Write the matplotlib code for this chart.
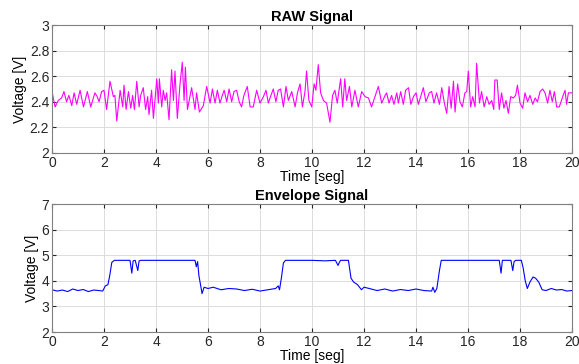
import matplotlib
matplotlib.use('Agg')
import matplotlib.pyplot as plt

# raw signal (time in s, voltage in V)
raw_t = [0.0, 0.12, 0.24, 0.37, 0.46, 0.56, 0.65, 0.76, 0.85, 0.95,
         1.08, 1.21, 1.36, 1.49, 1.65, 1.74, 1.81, 1.91, 2.0, 2.1,
         2.23, 2.36, 2.42, 2.49, 2.62, 2.72, 2.77, 2.85, 2.94, 3.03,
         3.1, 3.17, 3.26, 3.35, 3.41, 3.51, 3.6, 3.68, 3.73, 3.83,
         3.9, 4.03, 4.09, 4.13, 4.22, 4.28, 4.35, 4.41, 4.5, 4.6,
         4.67, 4.73, 4.82, 4.92, 5.01, 5.08, 5.13, 5.21, 5.37, 5.5,
         5.56, 5.67, 5.82, 5.95, 6.08, 6.17, 6.27, 6.36, 6.46, 6.55,
         6.62, 6.72, 6.81, 6.91, 7.0, 7.1, 7.2, 7.29, 7.38, 7.51,
         7.62, 7.74, 7.87, 8.0, 8.13, 8.23, 8.32, 8.42, 8.51, 8.61,
         8.7, 8.79, 8.9, 9.0, 9.09, 9.22, 9.35, 9.44, 9.54, 9.63,
         9.73, 9.79, 9.88, 9.99, 10.08, 10.15, 10.24, 10.33, 10.44, 10.56,
         10.69, 10.79, 10.88, 10.97, 11.1, 11.18, 11.26, 11.33, 11.44, 11.53,
         11.65, 11.78, 11.91, 12.04, 12.17, 12.29, 12.42, 12.55, 12.68, 12.81,
         12.87, 12.96, 13.06, 13.15, 13.26, 13.32, 13.41, 13.51, 13.6, 13.71,
         13.8, 13.9, 14.0, 14.09, 14.19, 14.28, 14.38, 14.51, 14.6, 14.69,
         14.79, 14.9, 14.99, 15.09, 15.18, 15.27, 15.35, 15.44, 15.5, 15.6,
         15.69, 15.78, 15.88, 15.95, 16.01, 16.1, 16.18, 16.27, 16.33, 16.44,
         16.52, 16.62, 16.72, 16.81, 16.91, 16.99, 17.03, 17.12, 17.2, 17.29,
         17.38, 17.46, 17.55, 17.64, 17.74, 17.83, 17.9, 18.0, 18.1, 18.19,
         18.29, 18.38, 18.49, 18.58, 18.67, 18.77, 18.87, 18.96, 19.06, 19.15,
         19.24, 19.32, 19.41, 19.51, 19.64, 19.73, 19.79, 19.86, 20.0]
raw_v = [2.48, 2.36, 2.41, 2.43, 2.48, 2.40, 2.45, 2.37, 2.47, 2.38,
         2.49, 2.36, 2.48, 2.36, 2.47, 2.44, 2.40, 2.48, 2.49, 2.34,
         2.56, 2.44, 2.45, 2.25, 2.49, 2.36, 2.53, 2.34, 2.48, 2.35,
         2.45, 2.34, 2.56, 2.36, 2.45, 2.51, 2.34, 2.44, 2.30, 2.49,
         2.27, 2.58, 2.39, 2.58, 2.36, 2.49, 2.41, 2.47, 2.26, 2.65,
         2.41, 2.64, 2.27, 2.53, 2.71, 2.41, 2.67, 2.34, 2.51, 2.34,
         2.47, 2.32, 2.37, 2.52, 2.39, 2.50, 2.39, 2.49, 2.39, 2.45,
         2.49, 2.40, 2.50, 2.40, 2.48, 2.49, 2.40, 2.36, 2.45, 2.52,
         2.36, 2.36, 2.49, 2.39, 2.44, 2.49, 2.39, 2.45, 2.50, 2.40,
         2.49, 2.50, 2.36, 2.52, 2.41, 2.48, 2.36, 2.47, 2.54, 2.36,
         2.48, 2.64, 2.41, 2.36, 2.54, 2.49, 2.69, 2.47, 2.41, 2.39,
         2.24, 2.45, 2.49, 2.39, 2.58, 2.36, 2.58, 2.41, 2.52, 2.36,
         2.49, 2.36, 2.48, 2.44, 2.43, 2.36, 2.44, 2.52, 2.39, 2.45,
         2.47, 2.39, 2.45, 2.38, 2.47, 2.39, 2.48, 2.38, 2.49, 2.51,
         2.38, 2.44, 2.47, 2.38, 2.45, 2.51, 2.40, 2.47, 2.48, 2.39,
         2.47, 2.38, 2.51, 2.39, 2.31, 2.52, 2.35, 2.56, 2.32, 2.54,
         2.40, 2.36, 2.47, 2.48, 2.64, 2.36, 2.44, 2.36, 2.70, 2.39,
         2.48, 2.36, 2.44, 2.38, 2.41, 2.34, 2.57, 2.57, 2.34, 2.47,
         2.35, 2.41, 2.31, 2.44, 2.43, 2.45, 2.53, 2.39, 2.35, 2.47,
         2.40, 2.45, 2.38, 2.43, 2.40, 2.48, 2.50, 2.47, 2.39, 2.49,
         2.40, 2.48, 2.36, 2.36, 2.44, 2.49, 2.38, 2.47, 2.47]

# envelope signal
env_t = [0.0, 0.2, 0.4, 0.6, 0.8, 1.0, 1.2, 1.4, 1.6, 1.8, 1.95,
         2.05, 2.15, 2.22, 2.3, 2.4, 3.0, 3.07, 3.12, 3.2, 3.3, 3.35, 3.42, 4.0, 5.0, 5.5,
         5.55, 5.6, 5.65, 5.72, 5.77, 5.85, 6.0, 6.2, 6.5, 6.8, 7.1, 7.4, 7.7, 8.0, 8.3, 8.6,
         8.7, 8.75, 8.82, 8.9, 8.98, 9.5, 10.0, 10.5, 10.9, 11.0, 11.05, 11.1, 11.4,
         11.5, 11.6, 11.75, 11.9, 12.0, 12.2, 12.5, 12.8, 13.1, 13.4, 13.7, 14.0, 14.3, 14.6,
         14.65, 14.72, 14.8, 14.9, 14.97, 15.5, 16.0, 16.5, 17.2, 17.27, 17.32, 17.38, 17.65,
         17.72, 17.77, 17.83, 18.05, 18.12, 18.2, 18.28, 18.38, 18.5, 18.6, 18.72, 18.85,
         19.0, 19.2, 19.4, 19.6, 19.8, 20.0]
env_v = [3.65, 3.6, 3.64, 3.58, 3.68, 3.62, 3.66, 3.58, 3.64, 3.62, 3.6,
         3.8, 3.85, 4.2, 4.72, 4.8, 4.8, 4.3, 4.78, 4.8, 4.4, 4.78, 4.8, 4.8, 4.8, 4.8,
         4.55, 4.75, 4.2, 3.8, 3.5, 3.75, 3.7, 3.75, 3.65, 3.7, 3.68, 3.62, 3.67, 3.6, 3.65, 3.7,
         3.8, 3.65, 4.1, 4.7, 4.8, 4.8, 4.8, 4.78, 4.8, 4.6, 4.72, 4.8, 4.8,
         4.1, 3.95, 3.85, 3.65, 3.75, 3.7, 3.62, 3.68, 3.6, 3.66, 3.62, 3.68, 3.62, 3.6,
         3.75, 3.55, 3.7, 4.4, 4.8, 4.8, 4.8, 4.8, 4.8, 4.3, 4.8, 4.8, 4.8,
         4.4, 4.75, 4.8, 4.8, 4.5, 4.0, 3.7, 3.95, 4.15, 4.1, 3.95, 3.65,
         3.62, 3.7, 3.64, 3.66, 3.6, 3.62]

plt.rcParams['font.family'] = ['Liberation Sans', 'DejaVu Sans']

fig = plt.figure(figsize=(5.79, 3.64), dpi=100)
ax1 = fig.add_axes([0.0898, 0.5797, 0.8982, 0.3516])
ax2 = fig.add_axes([0.0898, 0.0879, 0.8982, 0.3516])

ax1.plot(raw_t, raw_v, color='#ff00ff', linewidth=0.8)
ax1.set_ylim(2, 3)
ax1.set_yticks([2, 2.2, 2.4, 2.6, 2.8, 3])
ax1.set_yticklabels(['2', '2.2', '2.4', '2.6', '2.8', '3'])
ax1.set_title('RAW Signal', fontsize=10.5, fontweight='bold', pad=3)

ax2.plot(env_t, env_v, color='#0000ff', linewidth=0.8)
ax2.set_ylim(2, 7)
ax2.set_yticks([2, 3, 4, 5, 6, 7])
ax2.set_title('Envelope Signal', fontsize=10.5, fontweight='bold', pad=3)

for ax in (ax1, ax2):
    ax.set_xlim(0, 20)
    ax.set_xticks(range(0, 21, 2))
    ax.grid(True, color='#dcdcdc', linewidth=0.7)
    ax.set_axisbelow(True)
    ax.tick_params(direction='in', labelsize=10, colors='#262626', length=3,
                   top=True, right=True, pad=2)
    for s in ax.spines.values():
        s.set_color('#808080')
        s.set_linewidth(0.8)
    ax.set_xlabel('Time [seg]', fontsize=10, labelpad=0)
    ax.set_ylabel('Voltage [V]', fontsize=10, labelpad=2)

fig.savefig('out.png', dpi=100)
